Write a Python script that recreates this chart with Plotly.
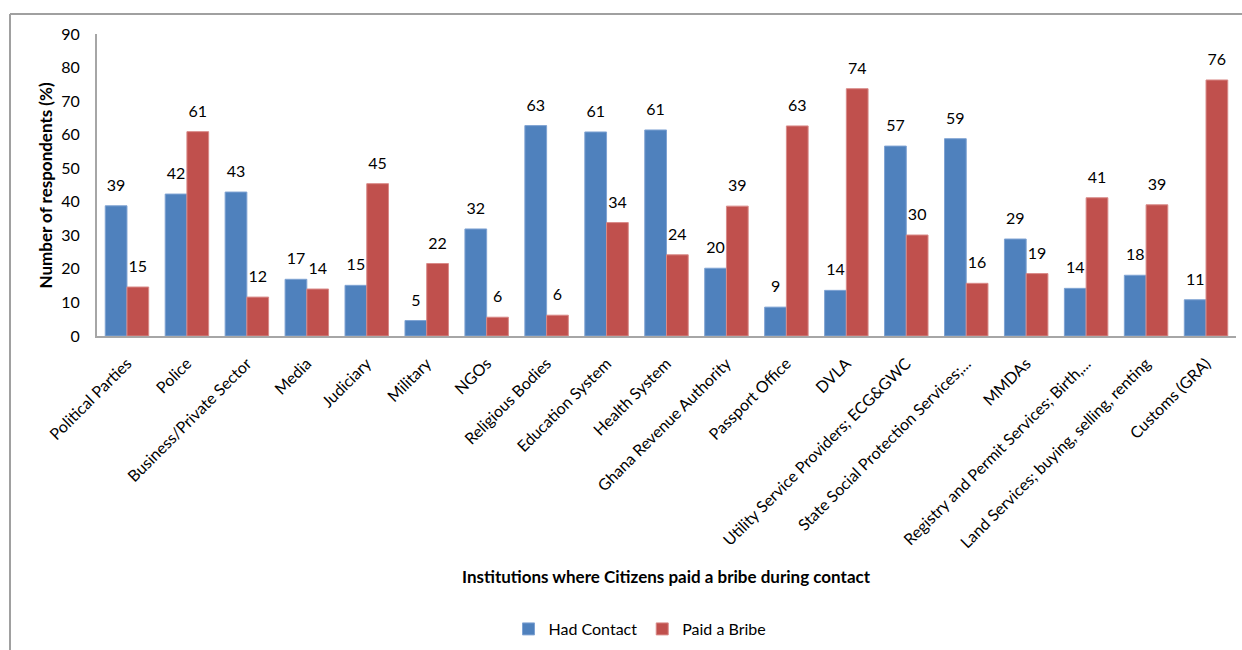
import plotly.graph_objects as go

categories = [
    "Political Parties", "Police", "Business/Private Sector", "Media", "Judiciary",
    "Military", "NGOs", "Religious Bodies", "Education System", "Health System",
    "Ghana Revenue Authority", "Passport Office", "DVLA",
    "Utility Service Providers; ECG&GWC", "State Social Protection Services;...",
    "MMDAs", "Registry and Permit Services; Birth,...",
    "Land Services; buying, selling, renting", "Customs (GRA)",
]
had_contact = [38.8, 42.3, 42.9, 16.9, 15.1, 4.6, 31.9, 62.7, 60.8, 61.4,
               20.2, 8.6, 13.6, 56.6, 58.8, 28.9, 14.2, 18.1, 10.8]
paid_bribe = [14.6, 60.9, 11.6, 14.0, 45.4, 21.6, 5.6, 6.2, 33.8, 24.2,
              38.7, 62.6, 73.7, 30.1, 15.7, 18.6, 41.2, 39.1, 76.3]
y_ticks = [0, 10, 20, 30, 40, 50, 60, 70, 80, 90]

FONT = "Lato"
W, H = 1242, 650
L, R, T, B = 97, 6, 34, 313
pw, ph = W - L - R, H - T - B

def px_x(p):
    return (p - L) / pw

def px_y(p):
    return (H - B - p) / ph

fig = go.Figure()
series = [
    ("Had Contact", had_contact, "#4F81BD", "#7FA3D3"),
    ("Paid a Bribe", paid_bribe, "#C0504D", "#D98A88"),
]
for i, (name, vals, col, edge) in enumerate(series):
    fig.add_trace(go.Bar(
        x=categories, y=vals, name=name, offsetgroup=str(i),
        marker=dict(color=col, line=dict(color=edge, width=1)),
        hoverinfo="x+y",
    ))
for i, (name, vals, col, edge) in enumerate(series):
    fig.add_trace(go.Scatter(
        x=categories, y=vals, mode="markers+text", offsetgroup=str(i),
        text=[f"{v:.0f}" for v in vals], textposition="top center",
        textfont=dict(size=16, color="#000000", family=FONT),
        marker=dict(size=16, opacity=0), showlegend=False,
        hoverinfo="skip", cliponaxis=False,
    ))

fig.update_layout(
    width=W, height=H,
    margin=dict(l=L, r=R, t=T, b=B),
    paper_bgcolor="white", plot_bgcolor="white",
    font=dict(family=FONT, size=14, color="#000000"),
    barmode="group", bargap=0.275, bargroupgap=0,
    scattermode="group", scattergap=0.275,
    showlegend=True,
    legend=dict(orientation="h", x=px_x(640), xanchor="center",
                y=px_y(629), yanchor="middle",
                font=dict(size=16, family=FONT), traceorder="normal",
                itemwidth=30),
    xaxis=dict(showline=True, linecolor="#A6A6A6", linewidth=2,
               tickangle=-45, ticks="", tickfont=dict(size=16, family=FONT),
               showgrid=False, ticklabelstandoff=10),
    yaxis=dict(range=[0, 90], tickvals=y_ticks, showline=True,
               linecolor="#A6A6A6", linewidth=2, ticks="", showgrid=False,
               zeroline=False, tickfont=dict(size=16, family=FONT),
               ticklabelstandoff=12),
    shapes=[
        dict(type="line", xref="paper", yref="paper",
             x0=px_x(10), x1=px_x(1250), y0=px_y(14), y1=px_y(14),
             line=dict(color="#A0A0A0", width=2)),
        dict(type="line", xref="paper", yref="paper",
             x0=px_x(10), x1=px_x(10), y0=px_y(14), y1=px_y(660),
             line=dict(color="#A0A0A0", width=2)),
    ],
    annotations=[
        dict(text="<b>Institutions where Citizens paid a bribe during contact</b>",
             xref="paper", yref="paper", x=px_x(666), y=px_y(578),
             xanchor="center", yanchor="middle", showarrow=False,
             font=dict(size=17, family=FONT)),
        dict(text="<b>Number of respondents (%)</b>",
             xref="paper", yref="paper", x=px_x(45), y=px_y(186),
             xanchor="center", yanchor="middle", showarrow=False, textangle=-90,
             font=dict(size=17, family=FONT)),
    ],
)

fig.write_html("out.html")
